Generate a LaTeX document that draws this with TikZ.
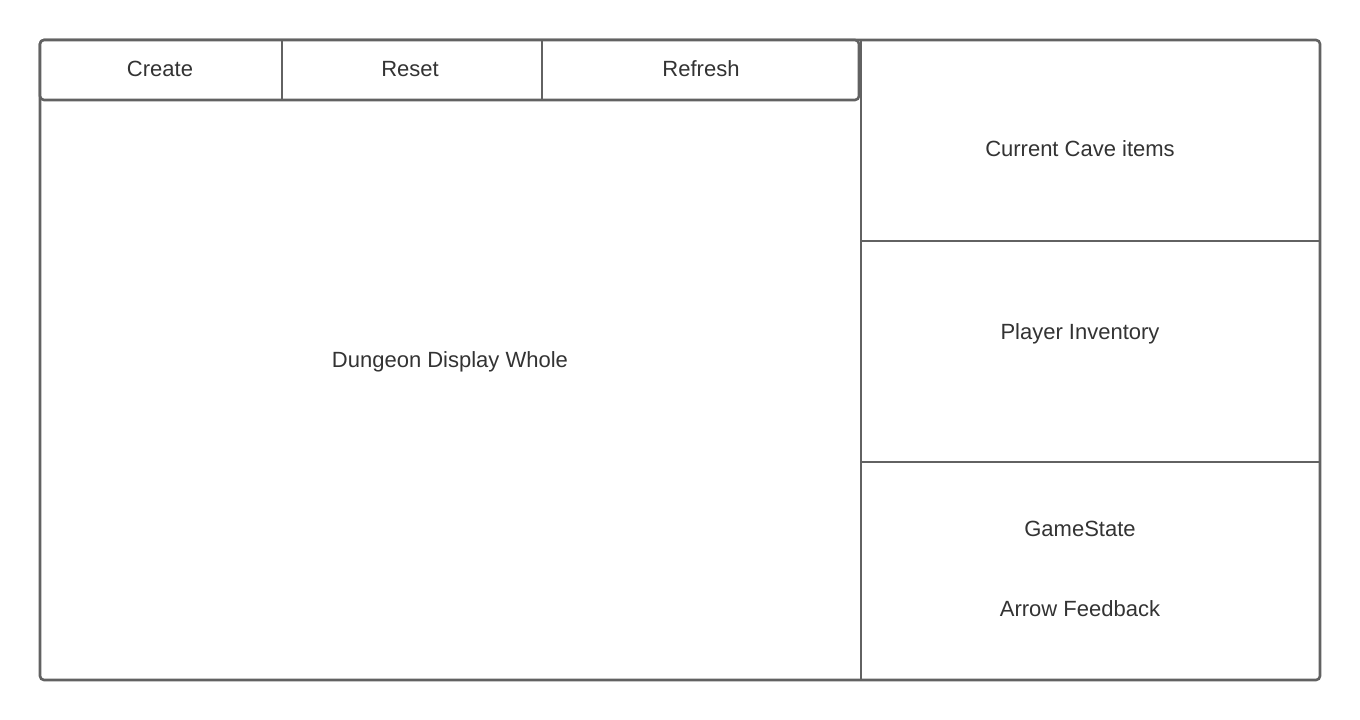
\documentclass[tikz,border=0pt]{standalone}
\usepackage{fontspec}
\setmainfont{Liberation Sans}
\definecolor{edge}{HTML}{626262}
\definecolor{ink}{HTML}{333333}
\begin{document}
\begin{tikzpicture}[x=1pt,y=-1pt,
  region/.style={inner sep=0pt, outer sep=0pt, anchor=north west},
  frame/.style={draw=edge, line width=2.6pt, rounded corners=4pt},
  divider/.style={draw=edge, line width=2.6pt},
  label/.style={text=ink, font=\fontsize{22}{26}\selectfont, inner sep=0pt, anchor=base}]
  \useasboundingbox[fill=white] (0,0) rectangle (1360,720);

  % regions of the window
  \node[region, minimum width=821pt, minimum height=640pt] (display) at (40,40) {};
  \node[region, minimum width=459pt, minimum height=201pt] (cave) at (861,40) {};
  \node[region, minimum width=459pt, minimum height=221pt] (inventory) at (861,241) {};
  \node[region, minimum width=459pt, minimum height=218pt] (state) at (861,462) {};
  \node[region, minimum width=242pt, minimum height=60pt] (create) at (40,40) {};
  \node[region, minimum width=260pt, minimum height=60pt] (reset) at (282,40) {};
  \node[region, minimum width=317pt, minimum height=60pt] (refresh) at (542,40) {};

  % outer frame and panel dividers
  \draw[frame] (display.north west) rectangle (state.south east);
  \draw[divider] (display.north east) -- (display.south east);
  \draw[divider] (cave.south west) -- (cave.south east);
  \draw[divider] (inventory.south west) -- (inventory.south east);

  % button bar
  \draw[frame, fill=white] (create.north west) rectangle (refresh.south east);
  \draw[divider] (create.north east) -- (create.south east);
  \draw[divider] (reset.north east) -- (reset.south east);

  % labels (baseline = cap-height centre + 8)
  \node[label] (tcreate) at (160,76) {Create};
  \node[label] (treset) at (410,76) {Reset};
  \node[label] (trefresh) at (701,76) {Refresh};
  \node[label] (tdisplay) at (450,367) {Dungeon Display Whole};
  \node[label] (tcave) at (1080,156) {Current Cave items};
  \node[label] (tinv) at (1080,339) {Player Inventory};
  \node[label] (tstate) at (1080,536) {GameState};
  \node[label] (tarrow) at (1080,616) {Arrow Feedback};
\end{tikzpicture}
\end{document}
